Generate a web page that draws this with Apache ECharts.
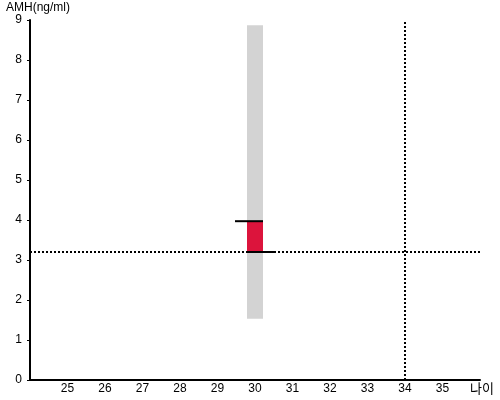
<!DOCTYPE html>
<html>
<head>
<meta charset="utf-8">
<script src="https://cdn.jsdelivr.net/npm/echarts@6/dist/echarts.min.js"></script>
<style>html,body{margin:0;padding:0;background:#fff}#c{width:500px;height:400px}</style>
</head>
<body>
<div id="c"></div>
<script>
const xTicks = [25, 26, 27, 28, 29, 30, 31, 32, 33, 34, 35];
const ageMin = 24, ageMax = 36;
const amhMin = 0, amhMax = 9;
// reference range bar: [age, low, high]
const rangeBar = [[30, 1.53, 8.87]];
// measured bar: [age, low, high]
const valueBar = [[30, 3.2, 3.97]];
const refAmh = 3.2;
const refAge = 34;
const yAxisName = 'AMH(ng/ml)';
const xAxisName = '나이';

const chart = echarts.init(document.getElementById('c'));
const font = 'Liberation Sans, Arial, sans-serif';

function barItem(color, withLines) {
  return function (params, api) {
    const x = api.value(0), lo = api.value(1), hi = api.value(2);
    const pLo = api.coord([x, lo]);
    const pHi = api.coord([x, hi]);
    const w = api.size([0.4267, 0])[0];
    const children = [{
      type: 'rect',
      shape: { x: pLo[0] - w / 2, y: pHi[1], width: w, height: pLo[1] - pHi[1] },
      style: { fill: color }
    }];
    if (withLines) {
      children.push({
        type: 'line',
        shape: { x1: pHi[0] - w / 2 - 12, y1: pHi[1], x2: pHi[0] + w / 2, y2: pHi[1] },
        style: { stroke: '#000', lineWidth: 2 }
      });
      children.push({
        type: 'line',
        shape: { x1: pLo[0] - w / 2, y1: pLo[1], x2: pLo[0] + w / 2 + 12, y2: pLo[1] },
        style: { stroke: '#000', lineWidth: 2 }
      });
    }
    return { type: 'group', children };
  };
}

chart.setOption({
  animation: false,
  grid: { left: 30, right: 20, top: 20, bottom: 20, containLabel: false, outerBoundsMode: 'none' },
  xAxis: {
    type: 'value', min: ageMin, max: ageMax, interval: 1,
    name: xAxisName, nameLocation: 'end', nameGap: -10,
    nameTextStyle: { fontSize: 13, color: '#000', fontFamily: "'Noto Sans CJK KR', sans-serif", verticalAlign: 'top', padding: [2, 0, 0, 0] },
    axisLine: { show: true, lineStyle: { color: '#000', width: 2 } },
    axisTick: { show: false },
    splitLine: { show: false },
    axisLabel: {
      margin: 3, fontSize: 12, color: '#000', fontFamily: font,
      formatter: v => xTicks.includes(v) ? String(v) : ''
    }
  },
  yAxis: {
    type: 'value', min: amhMin, max: amhMax, interval: 1,
    name: yAxisName, nameLocation: 'end', nameGap: 4,
    nameTextStyle: { fontSize: 12, color: '#000', fontFamily: font, align: 'center', padding: [0, 0, 0, 16] },
    axisLine: { show: true, lineStyle: { color: '#000', width: 2 } },
    axisTick: { show: true, length: 3, lineStyle: { color: '#000', width: 1 } },
    splitLine: { show: false },
    axisLabel: { margin: 8, fontSize: 12, color: '#000', fontFamily: font }
  },
  series: [
    {
      type: 'custom', renderItem: barItem('#d3d3d3', false),
      encode: { x: 0, y: [1, 2] }, data: rangeBar, z: 1
    },
    {
      type: 'custom', renderItem: barItem('#dc143c', true),
      encode: { x: 0, y: [1, 2] }, data: valueBar, z: 2,
      markLine: {
        silent: true, symbol: 'none', label: { show: false },
        lineStyle: { color: '#000', type: [2, 2], width: 2 },
        data: [{ yAxis: refAmh }, { xAxis: refAge }]
      }
    }
  ]
});
</script>
</body>
</html>
